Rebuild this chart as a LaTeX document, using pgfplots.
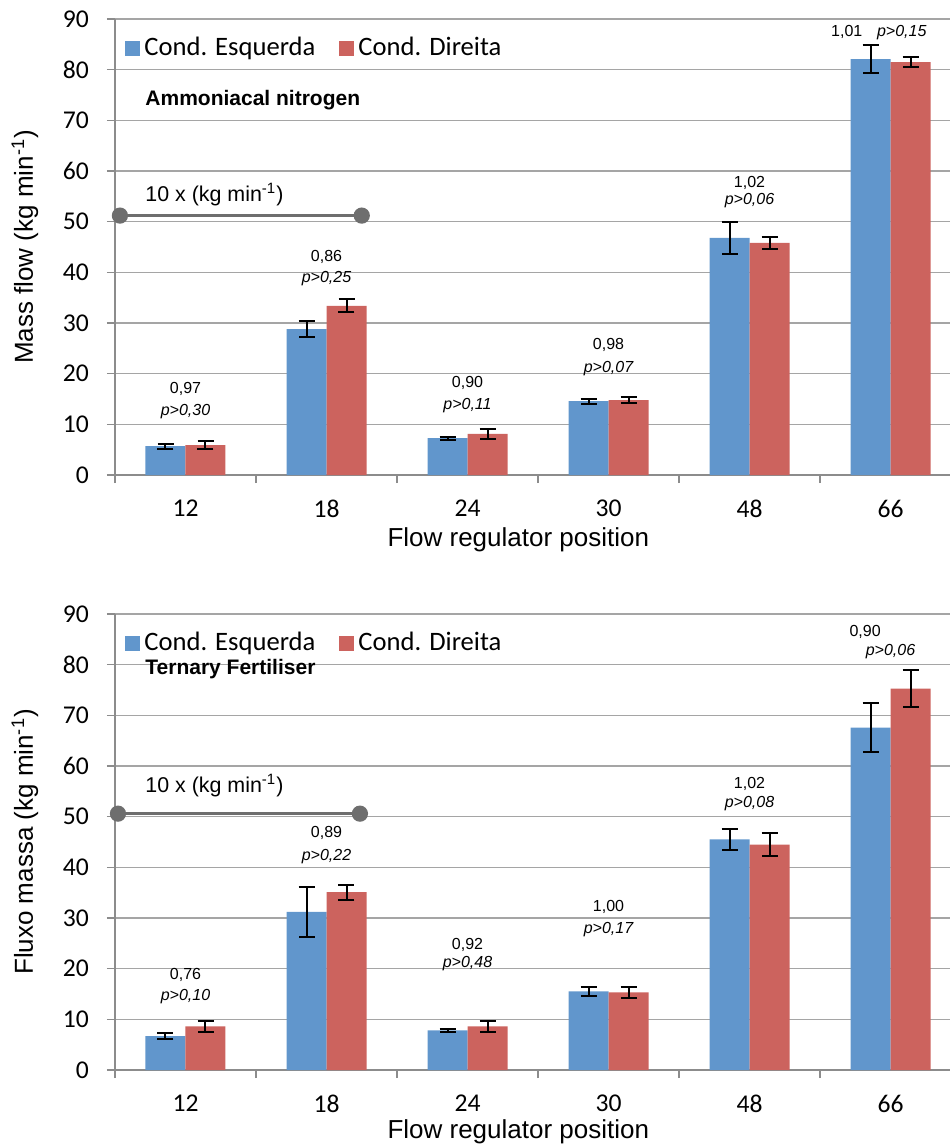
\documentclass[border=0pt]{standalone}
\usepackage{fontspec}
\setmainfont{Liberation Sans}
\newfontfamily\calibri{Carlito}
\usepackage{pgfplots}
\usepackage{pgfplotstable}
\pgfplotsset{compat=1.18}

\definecolor{cblue}{RGB}{97,150,204}
\definecolor{cred}{RGB}{204,99,94}
\definecolor{gridc}{RGB}{165,165,165}
\definecolor{axc}{RGB}{140,140,140}
\definecolor{dotc}{RGB}{110,110,110}

\pgfplotstableread{
x  b    be   r    re
0  5.7  0.5  5.9  0.8
1  28.8 1.6  33.4 1.3
2  7.3  0.3  8.1  0.9
3  14.6 0.5  14.8 0.6
4  46.8 3.2  45.8 1.2
5  82.1 2.8  81.5 1.0
}\datatop

\pgfplotstableread{
x  b    be   r    re
0  6.7  0.6  8.6  1.0
1  31.2 5.0  35.1 1.5
2  7.8  0.2  8.6  1.0
3  15.5 0.8  15.3 1.0
4  45.5 2.0  44.5 2.2
5  67.6 4.9  75.3 3.7
}\databot

\pgfplotsset{
 panel/.style={
  scale only axis, width=417.5pt, height=228pt,
  xmin=-0.5, xmax=5.422, ymin=0, ymax=90,
  ytick={0,10,...,90},
  xtick={-0.5,0.5,...,4.5},
  xticklabels={12,18,24,30,48,66},
  x tick label style={xshift=35.25pt, yshift=-5pt},
  y tick label style={xshift=-5.5pt},
  axis x line*=bottom, axis y line*=left,
  axis line style={axc, line width=0.9pt, -},
  ymajorgrids, grid style={gridc, line width=0.7pt},
  major tick length=4pt, tick align=outside,
  tick style={axc, line width=0.8pt},
  ticklabel style={font=\calibri\fontsize{12.8}{14}\selectfont},
  /pgf/number format/assume math mode=true,
  ybar=0pt, bar width=20pt,
  clip=false,
  xlabel style={font=\fontsize{13}{15}\selectfont},
  ylabel style={font=\fontsize{13}{15}\selectfont, at={(axis description cs:-0.1078,0.5)}, anchor=center},
  legend style={at={(axis description cs:0,1)}, anchor=north west, xshift=2pt, yshift=-5pt,
    draw=none, fill=none, font=\calibri\fontsize{13.3}{15}\selectfont,
    legend columns=2, /tikz/every even column/.append style={column sep=10pt}},
  legend image code/.code={\fill[#1] (0pt,-3.75pt) rectangle (7.5pt,3.75pt);},
 },
 bars/.style={draw=none, error bars/.cd, y dir=both, y explicit,
   error bar style={black, line width=1pt},
   error mark options={rotate=90, black, mark size=4pt, line width=1pt}},
}

\begin{document}
\begin{tikzpicture}
\begin{axis}[panel, at={(57.5pt,-237.5pt)}, anchor=south west,
  xlabel={Flow regulator position},
  xlabel style={at={(axis description cs:0.483,0)}, yshift=-32.5pt, anchor=center},
  ylabel={Mass flow (kg min\textsuperscript{-1})}]
\addplot[fill=cblue, bars] table[x=x, y=b, y error=be] {\datatop};
\addlegendentry{Cond. Esquerda}
\addplot[fill=cred, bars] table[x=x, y=r, y error=re] {\datatop};
\addlegendentry{Cond. Direita}
\addplot[sharp plot, forget plot, dotc, line width=1.5pt, mark=*, mark size=3.3pt, mark options={fill=dotc, draw=dotc}] coordinates {(-0.465,51.2) (1.25,51.2)};
\node[font=\bfseries\fontsize{10.5}{12}\selectfont, anchor=west, inner sep=0pt] at (axis cs:-0.287,74.0) {Ammoniacal nitrogen};
\node[font=\fontsize{10.7}{12}\selectfont, anchor=west, inner sep=0pt] at (axis cs:-0.287,55.3) {10 x (kg min\textsuperscript{-1})};
\begin{scope}[every node/.style={font=\fontsize{8}{9}\selectfont}]
\node at (axis cs:0,17.0) {0,97}; \node[font=\itshape\fontsize{8}{9}\selectfont] at (axis cs:0,12.6) {p>0,30};
\node at (axis cs:1,43.0) {0,86}; \node[font=\itshape\fontsize{8}{9}\selectfont] at (axis cs:1,38.7) {p>0,25};
\node at (axis cs:2,18.2) {0,90}; \node[font=\itshape\fontsize{8}{9}\selectfont] at (axis cs:2,13.8) {p>0,11};
\node at (axis cs:3,25.7) {0,98}; \node[font=\itshape\fontsize{8}{9}\selectfont] at (axis cs:3,21.1) {p>0,07};
\node at (axis cs:4,57.6) {1,02}; \node[font=\itshape\fontsize{8}{9}\selectfont] at (axis cs:4,54.1) {p>0,06};
\node at (axis cs:4.69,87.4) {1,01}; \node[font=\itshape\fontsize{8}{9}\selectfont] at (axis cs:5.08,87.4) {p>0,15};
\end{scope}
\end{axis}

\begin{axis}[panel, at={(57.5pt,-535pt)}, anchor=south west,
  xlabel={Flow regulator position},
  xlabel style={at={(axis description cs:0.483,0)}, yshift=-31pt, anchor=center},
  ylabel={Fluxo massa (kg min\textsuperscript{-1})}]
\addplot[fill=cblue, bars] table[x=x, y=b, y error=be] {\databot};
\addlegendentry{Cond. Esquerda}
\addplot[fill=cred, bars] table[x=x, y=r, y error=re] {\databot};
\addlegendentry{Cond. Direita}
\addplot[sharp plot, forget plot, dotc, line width=1.5pt, mark=*, mark size=3.3pt, mark options={fill=dotc, draw=dotc}] coordinates {(-0.479,50.6) (1.237,50.6)};
\node[font=\bfseries\fontsize{10.5}{12}\selectfont, anchor=west, inner sep=0pt] at (axis cs:-0.287,79.2) {Ternary Fertiliser};
\node[font=\fontsize{10.7}{12}\selectfont, anchor=west, inner sep=0pt] at (axis cs:-0.287,56.1) {10 x (kg min\textsuperscript{-1})};
\begin{scope}[every node/.style={font=\fontsize{8}{9}\selectfont}]
\node at (axis cs:0,18.8) {0,76}; \node[font=\itshape\fontsize{8}{9}\selectfont] at (axis cs:0,14.5) {p>0,10};
\node at (axis cs:1,46.7) {0,89}; \node[font=\itshape\fontsize{8}{9}\selectfont] at (axis cs:1,42.2) {p>0,22};
\node at (axis cs:2,24.7) {0,92}; \node[font=\itshape\fontsize{8}{9}\selectfont] at (axis cs:2,21.0) {p>0,48};
\node at (axis cs:3,32.2) {1,00}; \node[font=\itshape\fontsize{8}{9}\selectfont] at (axis cs:3,27.8) {p>0,17};
\node at (axis cs:4,56.5) {1,02}; \node[font=\itshape\fontsize{8}{9}\selectfont] at (axis cs:4,52.5) {p>0,08};
\node at (axis cs:4.82,86.5) {0,90}; \node[font=\itshape\fontsize{8}{9}\selectfont] at (axis cs:5.0,82.5) {p>0,06};
\end{scope}
\end{axis}
\pgfresetboundingbox
\useasboundingbox (0,0) rectangle (475pt,-574pt);
\end{tikzpicture}
\end{document}
